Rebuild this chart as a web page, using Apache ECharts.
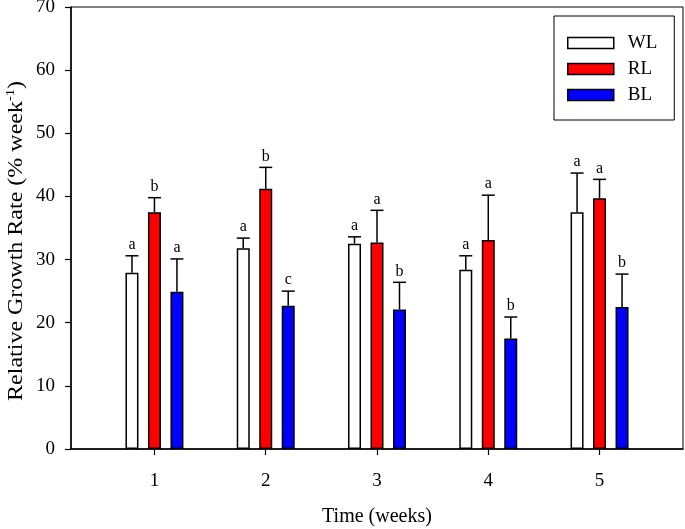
<!DOCTYPE html>
<html>
<head>
<meta charset="utf-8">
<script src="https://cdn.jsdelivr.net/npm/echarts@6/dist/echarts.min.js"></script>
<style>html,body{margin:0;padding:0;background:#fff}#c{width:685px;height:529px}</style>
</head>
<body>
<div id="c"></div>
<script>
const weeks = [1, 2, 3, 4, 5];
const seriesNames = ['WL', 'RL', 'BL'];
const wlValues = [27.9, 31.8, 32.5, 28.4, 37.5];
const wlErrors = [2.7, 1.6, 1.1, 2.2, 6.2];
const wlLetters = ['a', 'a', 'a', 'a', 'a'];
const rlValues = [37.5, 41.2, 32.7, 33.1, 39.7];
const rlErrors = [2.3, 3.4, 5.1, 7.1, 3.0];
const rlLetters = ['b', 'b', 'a', 'a', 'a'];
const blValues = [24.9, 22.7, 22.1, 17.5, 22.5];
const blErrors = [5.2, 2.3, 4.3, 3.4, 5.2];
const blLetters = ['a', 'c', 'b', 'b', 'b'];
const yTicks = [0, 10, 20, 30, 40, 50, 60, 70];
const xTitle = 'Time (weeks)';
const yTitleMain = 'Relative Growth Rate (% week';
const yTitleSup = '-1';

const FONT = '"Liberation Serif", "Times New Roman", serif';
const colors = ['#ffffff', '#ff0000', '#0000ff'];
const BAR_W = 13;
const BAR_GAP = 0.73;
const step = BAR_W * (1 + BAR_GAP);

const groups = [
  [wlValues, wlErrors, wlLetters],
  [rlValues, rlErrors, rlLetters],
  [blValues, blErrors, blLetters]
];

const series = [];
groups.forEach(function (g, i) {
  series.push({
    name: seriesNames[i],
    type: 'bar',
    barWidth: BAR_W,
    barGap: (BAR_GAP * 100) + '%',
    itemStyle: { color: colors[i], borderColor: '#000', borderWidth: 1.5 },
    data: weeks.map(function (w, k) { return [w, g[0][k]]; }),
    z: 2
  });
});
groups.forEach(function (g, i) {
  const off = (i - 1) * step;
  series.push({
    type: 'custom',
    silent: true,
    z: 3,
    data: weeks.map(function (w, k) { return [w, g[0][k], g[1][k], k]; }),
    renderItem: function (params, api) {
      const x = api.value(0), v = api.value(1), e = api.value(2), k = api.value(3);
      const base = api.coord([x, v]);
      const top = api.coord([x, v + e]);
      const cx = base[0] + off;
      return {
        type: 'group',
        children: [
          { type: 'line', shape: { x1: cx, y1: base[1], x2: cx, y2: top[1] }, style: { stroke: '#000', lineWidth: 1.5 } },
          { type: 'line', shape: { x1: cx - BAR_W / 2, y1: top[1], x2: cx + BAR_W / 2, y2: top[1] }, style: { stroke: '#000', lineWidth: 1.5 } },
          { type: 'text', x: cx, y: top[1] - 3, style: { text: g[2][k], fill: '#000', font: '16px ' + FONT, align: 'center', verticalAlign: 'bottom' } }
        ]
      };
    }
  });
});

const chart = echarts.init(document.getElementById('c'), null, { renderer: 'canvas' });
chart.setOption({
  animation: false,
  backgroundColor: '#fff',
  textStyle: { fontFamily: FONT },
  grid: { left: 71, right: 2, top: 7, bottom: 80, show: true, borderColor: '#000', borderWidth: 1, backgroundColor: 'transparent', containLabel: false, outerBoundsMode: 'none' },
  legend: {
    data: seriesNames,
    orient: 'vertical',
    left: 554,
    top: 16,
    padding: [17, 17, 15, 13],
    itemGap: 6,
    itemWidth: 46,
    itemHeight: 11,
    icon: 'rect',
    borderColor: '#000',
    borderWidth: 1,
    itemStyle: { borderColor: '#000', borderWidth: 1.5 },
    textStyle: { fontFamily: FONT, fontSize: 19, color: '#000', padding: [0, 0, 0, 9], lineHeight: 20 }
  },
  graphic: [{
    type: 'text',
    x: 16,
    y: 241,
    rotation: Math.PI / 2,
    scaleX: 1.2,
    style: {
      text: '{a|' + yTitleMain + '}{s|' + yTitleSup + '}{a|)}',
      align: 'center',
      verticalAlign: 'middle',
      rich: {
        a: { fontFamily: FONT, fontSize: 20, fill: '#000', lineHeight: 22, verticalAlign: 'bottom' },
        s: { fontFamily: FONT, fontSize: 12, fill: '#000', lineHeight: 22, verticalAlign: 'top', padding: [0, 0, 6, 0] }
      }
    }
  }],
  xAxis: {
    type: 'value',
    min: 0.25,
    max: 5.75,
    name: xTitle,
    nameLocation: 'middle',
    nameGap: 58,
    nameTextStyle: { fontFamily: FONT, fontSize: 20, color: '#000' },
    splitLine: { show: false },
    axisLine: { lineStyle: { color: '#000', width: 1.5 } },
    axisTick: { show: true, length: 6, lineStyle: { color: '#000', width: 1.2 }, customValues: weeks },
    axisLabel: { customValues: weeks, fontFamily: FONT, fontSize: 19, color: '#000', margin: 23, formatter: function (v) { return String(v); } }
  },
  yAxis: {
    type: 'value',
    min: 0,
    max: 70,
    interval: 10,
    splitLine: { show: false },
    axisLine: { show: true, lineStyle: { color: '#000', width: 1.5 } },
    axisTick: { show: true, length: 6, lineStyle: { color: '#000', width: 1.2 } },
    axisLabel: { fontFamily: FONT, fontSize: 19, color: '#000', margin: 16, customValues: yTicks }
  },
  series: series
});
</script>
</body>
</html>
